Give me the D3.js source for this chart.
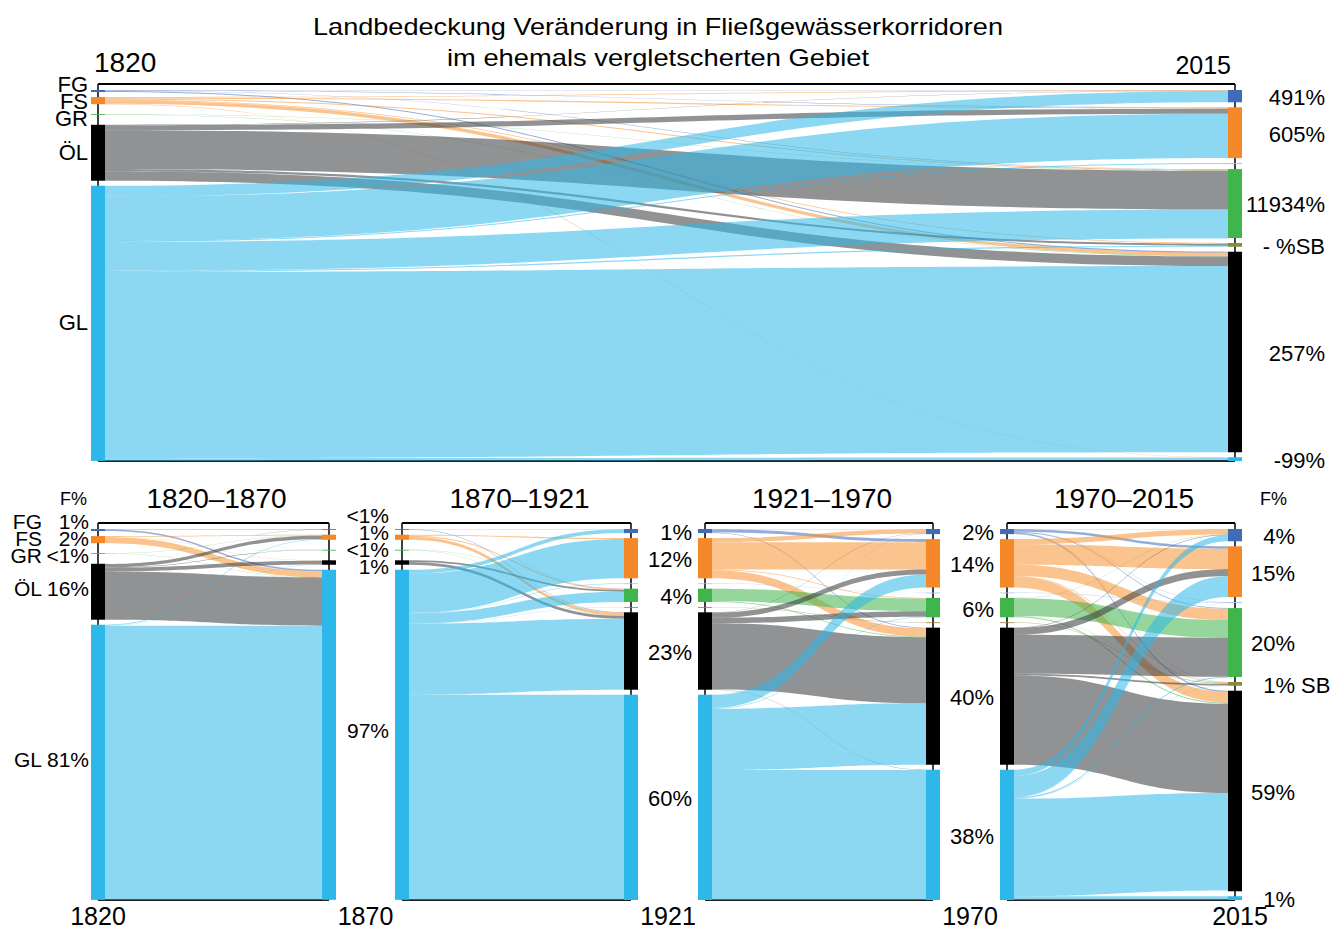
<!DOCTYPE html>
<html><head><meta charset="utf-8">
<script src="https://cdn.jsdelivr.net/npm/d3@7/dist/d3.min.js"></script>
<style>
body{margin:0;background:#fff}
text{font-family:"Liberation Sans",Arial,sans-serif;fill:#000}
</style>
</head><body>
<svg id="c" width="1342" height="931"></svg>
<script>
// ---------------- DATA ----------------
const categories = ["FG","FS","X","GR","SB","ÖL","GL"];
const years = ["1820","1870","1921","1970","2015"];

// share of corridor area (%) per year, in category order
const share1820 = [0.6, 2.1, 0,   0.17, 0,   16.4, 80.7];
const share1870 = [0.2, 1.5, 0,   0.15, 0,   1.3,  96.8];
const share1921 = [1.2, 11.8, 0.1, 3.9, 0.1, 22.7, 60.2];
const share1970 = [1.5, 14.2, 0.1, 5.7, 0.1, 40.2, 38.2];
const share2015 = [3.6, 14.9, 0.3, 20.2, 1.1, 58.8, 1.1];

// transitions [from, to, % of area]
const flows1820_2015 = [
  ["FG","FG",0.1],["FG","FS",0.1],["FG","GR",0.1],["FG","ÖL",0.3],
  ["FS","FG",0.2],["FS","FS",0.3],["FS","GR",0.3],["FS","SB",0.2],["FS","ÖL",1.0],["FS","GL",0.1],
  ["GR","GR",0.07],["GR","ÖL",0.1],
  ["ÖL","FG",0.1],["ÖL","FS",1.5],["ÖL","GR",11.4],["ÖL","SB",0.6],["ÖL","ÖL",2.8],
  ["GL","FG",3.2],["GL","FS",13.0],["GL","X",0.3],["GL","GR",8.5],["GL","SB",0.3],["GL","ÖL",54.6],["GL","GL",0.8]
];
const flows1820_1870 = [
  ["FG","FG",0.15],["FG","GL",0.45],
  ["FS","FS",0.25],["FS","ÖL",0.1],["FS","GL",1.75],
  ["GR","FS",0.07],["GR","GR",0.05],["GR","GL",0.05],
  ["ÖL","FG",0.05],["ÖL","FS",1.0],["ÖL","GR",0.1],["ÖL","ÖL",1.1],["ÖL","GL",14.15],
  ["GL","FS",0.18],["GL","ÖL",0.1],["GL","GL",80.4]
];
const flows1870_1921 = [
  ["FG","FG",0.05],["FG","GR",0.05],["FG","ÖL",0.1],
  ["FS","FS",0.3],["FS","GR",0.3],["FS","ÖL",0.9],
  ["GR","GR",0.05],["GR","ÖL",0.1],
  ["ÖL","GR",0.5],["ÖL","ÖL",0.8],
  ["GL","FG",1.15],["GL","FS",11.5],["GL","X",0.1],["GL","GR",3.0],["GL","SB",0.1],["GL","ÖL",20.8],["GL","GL",60.15]
];
const flows1921_1970 = [
  ["FG","FG",0.1],["FG","FS",0.9],["FG","ÖL",0.2],
  ["FS","FG",1.2],["FS","FS",8.0],["FS","GR",0.2],["FS","ÖL",2.4],
  ["X","X",0.1],
  ["GR","GR",3.7],["GR","ÖL",0.2],
  ["SB","SB",0.1],
  ["ÖL","FG",0.1],["ÖL","FS",1.5],["ÖL","GR",1.6],["ÖL","ÖL",19.4],["ÖL","GL",0.1],
  ["GL","FG",0.1],["GL","FS",3.8],["GL","GR",0.2],["GL","ÖL",18.0],["GL","GL",38.1]
];
const flows1970_2015 = [
  ["FG","FG",0.1],["FG","FS",0.7],["FG","X",0.1],["FG","GR",0.2],["FG","SB",0.1],["FG","ÖL",0.3],
  ["FS","FG",1.5],["FS","FS",6.0],["FS","GR",3.3],["FS","SB",0.2],["FS","ÖL",3.2],
  ["X","X",0.1],
  ["GR","FG",0.1],["GR","GR",5.2],["GR","SB",0.1],["GR","ÖL",0.3],
  ["SB","SB",0.1],
  ["ÖL","FG",0.1],["ÖL","FS",2.0],["ÖL","GR",11.4],["ÖL","SB",0.5],["ÖL","ÖL",26.2],
  ["GL","FG",1.8],["GL","FS",6.2],["GL","X",0.1],["GL","GR",0.3],["GL","SB",0.1],["GL","ÖL",28.6],["GL","GL",1.1]
];

// text labels (category order, "" = none)
const catNames   = ["FG","FS","","GR","","ÖL","GL"];
const change1820_2015 = ["491%","605%","","11934%","- %SB","257%","-99%"];
const pct1820 = ["1%","2%","","<1%","","16%","81%"];
const pct1870 = ["<1%","1%","","<1%","","1%","97%"];
const pct1921 = ["1%","12%","","4%","","23%","60%"];
const pct1970 = ["2%","14%","","6%","","40%","38%"];
const pct2015 = ["4%","15%","","20%","1%","59%","1%"];
const sbTag = "SB";
const periodTitles = ["1820–1870","1870–1921","1921–1970","1970–2015"];
const titleLines = ["Landbedeckung Veränderung in Fließgewässerkorridoren","im ehemals vergletscherten Gebiet"];
const unitLabel = "F%";

const nodeColor = {"FG":"#3e6cb9","FS":"#f5892a","X":"#a3c6ea","GR":"#3fb54b","SB":"#878b3b","ÖL":"#000000","GL":"#2eb8ea"};
const linkColor = {"FG":"#3e6cb9","FS":"#f7922f","X":"#8fb6e6","GR":"#3fb54b","SB":"#878b3b","ÖL":"#37393c","GL":"#2eb8ea"};

// ---------------- LAYOUT ----------------
const svg = d3.select("#c");
const GAP = 5, TOPPAD = 6, NODEW = 14, LINKOP = 0.55;
const ci = c => categories.indexOf(c);

function column(values, yScale, yTop){
  let cur = yTop + TOPPAD;
  return categories.map((c,i)=>{
    const h = yScale(values[i]);
    const n = {cat:c, i, y0:cur, y1:cur+h, h, v:values[i]};
    cur += h + GAP;
    return n;
  });
}

function drawSankey(g, cfg){
  const {xL, xR, yTop, yBot, left, right, flows} = cfg;
  const yScale = d3.scaleLinear().domain([0,100])
      .range([0, (yBot - yTop) - TOPPAD - GAP*(categories.length-1)]);
  const L = column(left, yScale, yTop), R = column(right, yScale, yTop);
  const links = flows.map(([s,t,v])=>({s:ci(s), t:ci(t), v, w:yScale(v)}));
  categories.forEach((c,i)=>{
    let off = L[i].y0;
    links.filter(l=>l.s===i).sort((a,b)=>a.t-b.t).forEach(l=>{l.a0=off; off+=l.w;});
    let off2 = R[i].y0;
    links.filter(l=>l.t===i).sort((a,b)=>a.s-b.s).forEach(l=>{l.a1=off2; off2+=l.w;});
  });
  const x0 = xL + NODEW/2, x1 = xR - NODEW/2, xm = (x0+x1)/2;
  g.append("line").attr("x1",xL).attr("x2",xL).attr("y1",yTop).attr("y2",yBot).attr("stroke","#000").attr("stroke-width",1.5);
  g.append("line").attr("x1",xR).attr("x2",xR).attr("y1",yTop).attr("y2",yBot).attr("stroke","#000").attr("stroke-width",1.5);
  g.append("line").attr("x1",xL).attr("x2",xR).attr("y1",yTop).attr("y2",yTop).attr("stroke","#000").attr("stroke-width",2);
  g.append("line").attr("x1",xL).attr("x2",xR).attr("y1",yBot).attr("y2",yBot).attr("stroke","#222").attr("stroke-width",2);
  links.sort((a,b)=>a.s-b.s || a.t-b.t);
  g.append("g").selectAll("path").data(links).join("path")
    .attr("d", l=>{
      const p = d3.path();
      p.moveTo(x0, l.a0);
      p.bezierCurveTo(xm, l.a0, xm, l.a1, x1, l.a1);
      p.lineTo(x1, l.a1 + l.w);
      p.bezierCurveTo(xm, l.a1 + l.w, xm, l.a0 + l.w, x0, l.a0 + l.w);
      p.closePath();
      return p.toString();
    })
    .attr("fill", l=>linkColor[categories[l.s]])
    .attr("fill-opacity", LINKOP);
  const drawNodes = (nodes, x) => g.append("g").selectAll("rect").data(nodes.filter(n=>n.v>0)).join("rect")
    .attr("x", x - NODEW/2).attr("width", NODEW)
    .attr("y", n=>n.y0).attr("height", n=>Math.max(n.h, 0.8))
    .attr("fill", n=>nodeColor[n.cat]);
  drawNodes(L, xL); drawNodes(R, xR);
  return {L, R};
}

function dodge(targets, gap){
  let groups = targets.map((t,i)=>({idx:[i], c:t}));
  let changed = true;
  while(changed){
    changed = false;
    for(let i=0;i<groups.length-1;i++){
      const a = groups[i], b = groups[i+1];
      const aEnd = a.c + (a.idx.length-1)/2*gap;
      const bStart = b.c - (b.idx.length-1)/2*gap;
      if(bStart - aEnd < gap){
        const idx = a.idx.concat(b.idx);
        groups.splice(i,2,{idx, c:d3.mean(idx, j=>targets[j])});
        changed = true; break;
      }
    }
  }
  const out = [];
  groups.forEach(g=>g.idx.forEach((j,k)=>{ out[j] = g.c + (k-(g.idx.length-1)/2)*gap; }));
  return out;
}

function labelColumn(nodes, texts, x, anchor, size, gap, shift){
  const items = nodes.map((n,i)=>({n, t:texts[i]})).filter(d=>d.t);
  const ys = dodge(items.map(d=>(d.n.y0+d.n.y1)/2), gap);
  items.forEach((d,k)=>{
    const yy = ys[k] + (shift||0);
    svg.append("text").attr("x",x).attr("y",yy + 0.36*size)
      .attr("text-anchor",anchor).attr("font-size",size).text(d.t);
    d.y = yy;
  });
  return items;
}

// ---------------- TITLE ----------------
titleLines.forEach((t,i)=>{
  svg.append("text").attr("x",658).attr("y",35 + i*31).attr("text-anchor","middle")
    .attr("font-size",24).attr("textLength", i===0?690:422).attr("lengthAdjust","spacingAndGlyphs").text(t);
});

// ---------------- TOP CHART ----------------
const overall = drawSankey(svg.append("g"), {xL:98, xR:1235, yTop:84, yBot:461, left:share1820, right:share2015, flows:flows1820_2015});
svg.append("text").attr("x",94).attr("y",72).attr("font-size",28).text(years[0]);
svg.append("text").attr("x",1231).attr("y",74).attr("text-anchor","end").attr("font-size",25).text(years[4]);
labelColumn(overall.L, catNames, 88, "end", 22, 17, -1);
labelColumn(overall.R, change1820_2015, 1325, "end", 22, 16, 1);

// ---------------- BOTTOM PANELS ----------------
const panelX = [[98,329],[402,631],[705,933],[1007,1235]];
const shares = [share1820, share1870, share1921, share1970, share2015];
const flowsP = [flows1820_1870, flows1870_1921, flows1921_1970, flows1970_2015];
const res = panelX.map(([a,b],i)=>drawSankey(svg.append("g"), {xL:a, xR:b, yTop:523, yBot:900, left:shares[i], right:shares[i+1], flows:flowsP[i]}));

periodTitles.forEach((t,i)=>{
  svg.append("text").attr("x",(panelX[i][0]+panelX[i][1])/2 + 3).attr("y",508)
    .attr("text-anchor","middle").attr("font-size",28).text(t);
});
const yearX = [98, (329+402)/2, (631+705)/2, (933+1007)/2, 1240];
years.forEach((y,i)=>{
  svg.append("text").attr("x",yearX[i]).attr("y",925).attr("text-anchor","middle").attr("font-size",25).text(y);
});
svg.append("text").attr("x",87).attr("y",505).attr("text-anchor","end").attr("font-size",18).text(unitLabel);
svg.append("text").attr("x",1260).attr("y",505).attr("text-anchor","start").attr("font-size",18).text(unitLabel);

labelColumn(res[0].L, catNames, 42, "end", 21, 17, -3);
labelColumn(res[0].L, pct1820, 89, "end", 21, 17, -3);
labelColumn(res[1].L, pct1870, 389, "end", 21, 17, -4);
labelColumn(res[2].L, pct1921, 692, "end", 22, 16, 1);
labelColumn(res[3].L, pct1970, 994, "end", 22, 16, 1);
const r15 = labelColumn(res[3].R, pct2015, 1295, "end", 22, 16, 1);
r15.filter(d=>d.n.cat==="SB").forEach(d=>{
  svg.append("text").attr("x",1301).attr("y",d.y + 0.36*22).attr("font-size",22).text(sbTag);
});
</script>
</body></html>
